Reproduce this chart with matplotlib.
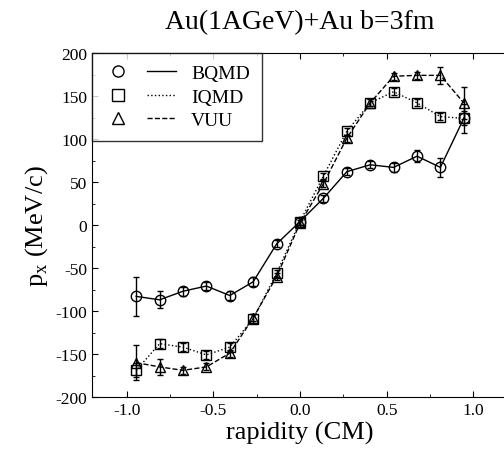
import matplotlib
matplotlib.use("Agg")
import matplotlib.pyplot as plt
from matplotlib.legend_handler import HandlerTuple
from matplotlib.lines import Line2D
from matplotlib.ticker import MultipleLocator

plt.rcParams['font.family'] = ['Liberation Serif', 'DejaVu Serif']
plt.rcParams['mathtext.fontset'] = 'custom'
plt.rcParams['mathtext.rm'] = 'Liberation Serif'
plt.rcParams['axes.unicode_minus'] = False

# rapidity bins (CM)
rapidity = [-0.945, -0.81, -0.675, -0.54, -0.405, -0.27, -0.135, 0.0,
            0.135, 0.27, 0.405, 0.54, 0.675, 0.81, 0.945]

# <px> in MeV/c
bqmd = [-83, -87, -77, -71, -82, -66, -22, 4, 31, 62, 70, 67, 80, 67, 124]
bqmd_err = [23, 10, 5, 5, 5, 5, 4, 4, 4, 4, 4, 5, 7, 11, 17]
iqmd = [-169, -138, -142, -151, -142, -109, -56, 4, 57, 109, 142, 155, 142, 126, 124]
iqmd_err = [8, 5, 5, 5, 5, 5, 4, 4, 4, 4, 4, 4, 4, 4, 8]
vuu = [-160, -165, -169, -165, -149, -108, -60, 2, 48, 101, 142, 173, 174, 174, 142]
vuu_err = [20, 9, 4, 4, 4, 4, 4, 4, 4, 4, 4, 4, 4, 10, 19]

fig = plt.figure(figsize=(5.04, 4.6), dpi=100)
ax = fig.add_axes([92 / 504, 62 / 460, 416 / 504, 344 / 460])

series = [
    ("BQMD", bqmd, bqmd_err, 'o', '-'),
    ("IQMD", iqmd, iqmd_err, 's', ':'),
    ("VUU", vuu, vuu_err, '^', '--'),
]

handles = []
labels = []
for name, vals, errs, mk, ls in series:
    ax.errorbar(rapidity, vals, yerr=errs, fmt=mk, linestyle=ls, color='black',
                mfc='none', mec='black', markersize=7.5, mew=1.0, lw=1.0,
                elinewidth=1.0, capsize=2.5)
    h_marker = Line2D([], [], marker=mk, linestyle='none', color='black',
                      mfc='none', markersize=8, mew=1.0)
    h_line = Line2D([], [], linestyle=ls, color='black', lw=1.0)
    handles.append((h_marker, h_line))
    labels.append(name)

ax.set_xlim(-1.2, 1.2)
ax.set_ylim(-200, 200)
ax.xaxis.set_major_locator(MultipleLocator(0.5))
ax.xaxis.set_minor_locator(MultipleLocator(0.25))
ax.yaxis.set_major_locator(MultipleLocator(50))
ax.yaxis.set_minor_locator(MultipleLocator(25))
ax.xaxis.set_major_formatter(plt.FuncFormatter(lambda v, p: f"{v:.1f}"))
ax.tick_params(which='both', direction='in', top=True, right=False, labelsize=12.5)
ax.tick_params(which='major', length=4)
ax.tick_params(which='minor', length=2)
ax.spines['right'].set_visible(False)

ax.set_title("Au(1AGeV)+Au b=3fm", fontsize=20, pad=18)
ax.set_xlabel("rapidity (CM)", fontsize=19, labelpad=2)
ax.set_ylabel(r"p$_\mathregular{x}$ (MeV/c)", fontsize=19, labelpad=4)

leg = ax.legend(handles, labels, handler_map={tuple: HandlerTuple(ndivide=None, pad=0.8)},
                loc='upper left', borderaxespad=0, fancybox=False, edgecolor='black',
                fontsize=14, handlelength=3.7, handletextpad=0.8, borderpad=0.6,
                labelspacing=0.3)
leg.get_frame().set_linewidth(1.0)

fig.savefig("out.png", dpi=100)
